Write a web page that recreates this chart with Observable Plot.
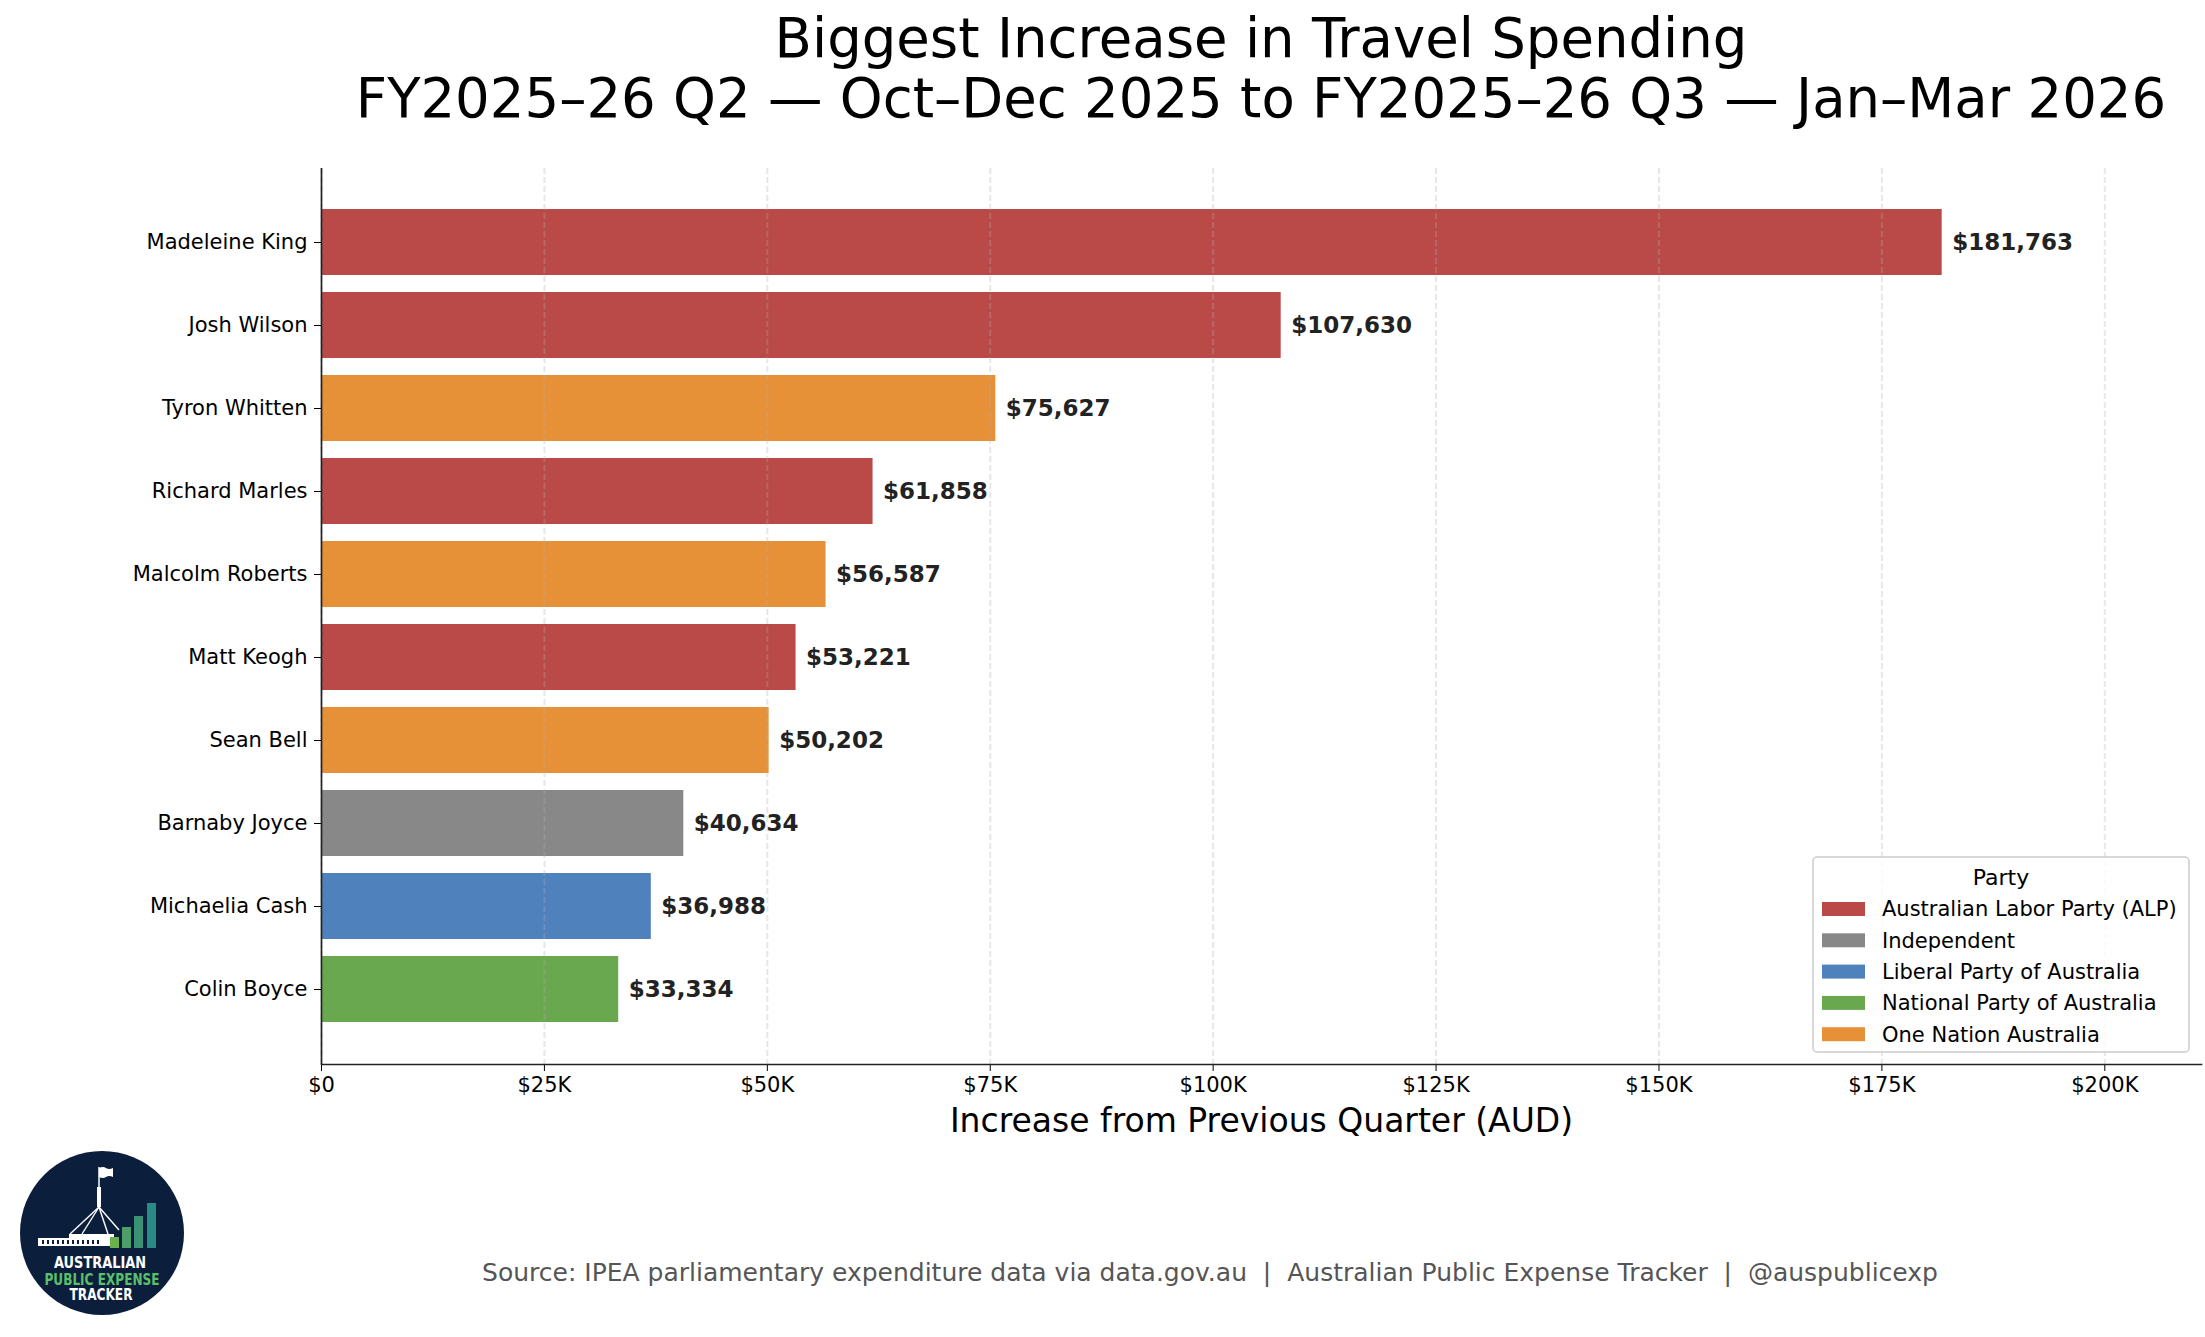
<!DOCTYPE html>
<html>
<head>
<meta charset="utf-8">
<script src="https://cdn.jsdelivr.net/npm/d3@7"></script>
<script src="https://cdn.jsdelivr.net/npm/@observablehq/plot@0.6"></script>
<style>
html, body { margin: 0; padding: 0; background: #fff; }
#page { position: relative; width: 2205px; height: 1337px; overflow: hidden; font-family: "DejaVu Sans", sans-serif; background: #fff; }
#title, #footer { display: block; }
#chart svg { display: block; }
#legend { position: absolute; left: 1812px; top: 856px; }
</style>
</head>
<body>
<div id="page">
  <svg id="title" width="2205" height="140"></svg>
  <div id="chart"></div>
  <svg id="footer" width="2205" height="187"></svg>
  <svg id="legend" width="380" height="200"></svg>
</div>
<script>
// ---------- data ----------
const titleLines = ["Biggest Increase in Travel Spending", "FY2025–26 Q2 — Oct–Dec 2025 to FY2025–26 Q3 — Jan–Mar 2026"];
const names = ["Madeleine King", "Josh Wilson", "Tyron Whitten", "Richard Marles", "Malcolm Roberts", "Matt Keogh", "Sean Bell", "Barnaby Joyce", "Michaelia Cash", "Colin Boyce"];
const values = [181763, 107630, 75627, 61858, 56587, 53221, 50202, 40634, 36988, 33334];
const parties = ["Australian Labor Party (ALP)", "Australian Labor Party (ALP)", "One Nation Australia", "Australian Labor Party (ALP)", "One Nation Australia", "Australian Labor Party (ALP)", "One Nation Australia", "Independent", "Liberal Party of Australia", "National Party of Australia"];
const partyOrder = ["Australian Labor Party (ALP)", "Independent", "Liberal Party of Australia", "National Party of Australia", "One Nation Australia"];
const partyColors = ["#b94a48", "#888888", "#4f81bd", "#6aa84f", "#e69138"];
const xTicks = [0, 25000, 50000, 75000, 100000, 125000, 150000, 175000, 200000];
const xTickLabels = ["$0", "$25K", "$50K", "$75K", "$100K", "$125K", "$150K", "$175K", "$200K"];
const xMax = 210845;
const xLabel = "Increase from Previous Quarter (AUD)";
const legendTitle = "Party";
const sourceText = "Source: IPEA parliamentary expenditure data via data.gov.au  |  Australian Public Expense Tracker  |  @auspublicexp";

const data = names.map((name, i) => ({name, value: values[i], party: parties[i]}));
const fmt = d3.format(",");

// ---------- title ----------
const titleSvg = d3.select("#title");
titleSvg.selectAll("text").data(titleLines).join("text")
  .attr("x", 1261).attr("y", (d, i) => 57 + i * 60)
  .attr("text-anchor", "middle")
  .attr("font-family", "DejaVu Sans").attr("font-size", 54.5).attr("fill", "#000")
  .text(d => d);

// ---------- chart ----------
const chart = Plot.plot({
  width: 2205,
  height: 1010,
  marginTop: 28,
  marginBottom: 86,
  marginLeft: 321,
  marginRight: 4,
  style: {fontFamily: "DejaVu Sans", fontSize: "21px", color: "#000", background: "#fff", overflow: "visible"},
  x: {domain: [0, xMax], axis: null},
  y: {domain: names, paddingInner: 0.2, paddingOuter: 0.49, axis: null},
  color: {domain: partyOrder, range: partyColors},
  marks: [
    Plot.barX(data, {x: "value", y: "name", fill: "party"}),
    Plot.ruleX(xTicks, {stroke: "#b0b0b0", strokeOpacity: 0.3, strokeWidth: 2, strokeDasharray: "6,3"}),
    Plot.text(data, {x: "value", y: "name", text: d => "$" + fmt(d.value), dx: 10, textAnchor: "start", fontWeight: "bold", fontSize: 23, fill: "#222"}),
    Plot.axisY({tickSize: 7, tickPadding: 7, fontSize: 21, color: "#000", label: null}),
    Plot.axisX({ticks: xTicks, tickFormat: d => xTickLabels[xTicks.indexOf(d)], tickSize: 7, tickPadding: 6, fontSize: 21, color: "#000", label: null}),
    Plot.ruleX([0], {stroke: "#222", strokeWidth: 1.7}),
    Plot.frame({anchor: "bottom", stroke: "#222", strokeWidth: 1.7}),
    Plot.text([xLabel], {frameAnchor: "bottom", dy: 57, fontSize: 33, lineAnchor: "middle", fill: "#000"})
  ]
});
document.getElementById("chart").appendChild(chart);

// ---------- legend ----------
const lg = d3.select("#legend");
lg.append("rect").attr("x", 1).attr("y", 1).attr("width", 376).attr("height", 195).attr("rx", 4)
  .attr("fill", "#fff").attr("fill-opacity", 0.8).attr("stroke", "#cccccc").attr("stroke-width", 1.5);
lg.append("text").attr("x", 189).attr("y", 29).attr("text-anchor", "middle")
  .attr("font-family", "DejaVu Sans").attr("font-size", 22).attr("fill", "#000").text(legendTitle);
const rows = lg.selectAll("g.row").data(partyOrder).join("g").attr("class", "row")
  .attr("transform", (d, i) => `translate(0,${53 + i * 31.3})`);
rows.append("rect").attr("x", 10).attr("y", -7).attr("width", 43).attr("height", 14)
  .attr("fill", (d, i) => partyColors[i]);
rows.append("text").attr("x", 70).attr("y", 0).attr("dy", "0.35em")
  .attr("font-family", "DejaVu Sans").attr("font-size", 21).attr("fill", "#000").text(d => d);

// ---------- footer: logo + source ----------
const ft = d3.select("#footer");
const cx = 102, cy = 83;
const logo = ft.append("g");
logo.append("circle").attr("cx", cx).attr("cy", cy).attr("r", 82).attr("fill", "#0b1f3d");
logo.append("path").attr("d", `M${cx-3},${cy-65} q4,-2 7,0 t7,0 l0,9 q-4,-2 -7,0 t-7,0 z`).attr("fill", "#fff");
logo.append("line").attr("x1", cx-3).attr("y1", cy-66).attr("x2", cx-3).attr("y2", cy-44).attr("stroke", "#fff").attr("stroke-width", 1.5);
logo.append("rect").attr("x", cx-5).attr("y", cy-46).attr("width", 4).attr("height", 20).attr("fill", "#fff");
[[-32, 1], [-20, 1], [6, 1], [17, -3]].forEach(([dx, dy]) => {
  logo.append("line").attr("x1", cx-3).attr("y1", cy-26).attr("x2", cx+dx).attr("y2", cy+dy)
    .attr("stroke", "#fff").attr("stroke-width", 1.4);
});
logo.append("rect").attr("x", cx-64).attr("y", cy+5).attr("width", 76).attr("height", 8).attr("fill", "#fff");
logo.append("rect").attr("x", cx-33).attr("y", cy+1).attr("width", 45).attr("height", 5).attr("fill", "#fff");
for (let k = 0; k < 12; k++) {
  logo.append("rect").attr("x", cx-60 + k * 5).attr("y", cy+7).attr("width", 2).attr("height", 4).attr("fill", "#0b1f3d");
}
[[8, 4, "#6ab04c"], [20, -6, "#4e9e68"], [32, -17, "#3a9176"], [45, -30, "#2a8a86"]].forEach(([dx, top, c]) => {
  logo.append("rect").attr("x", cx+dx).attr("y", cy+top).attr("width", 9).attr("height", 15 - top).attr("fill", c);
});
logo.append("text").attr("x", cx-2).attr("y", cy+35).attr("text-anchor", "middle")
  .attr("font-family", "DejaVu Sans").attr("font-weight", "bold").attr("font-size", 15)
  .attr("textLength", 92).attr("lengthAdjust", "spacingAndGlyphs").attr("fill", "#fff").text("AUSTRALIAN");
logo.append("text").attr("x", cx).attr("y", cy+52).attr("text-anchor", "middle")
  .attr("font-family", "DejaVu Sans").attr("font-weight", "bold").attr("font-size", 15)
  .attr("textLength", 115).attr("lengthAdjust", "spacingAndGlyphs").attr("fill", "#5cbf6a").text("PUBLIC EXPENSE");
logo.append("text").attr("x", cx-1).attr("y", cy+67).attr("text-anchor", "middle")
  .attr("font-family", "DejaVu Sans").attr("font-weight", "bold").attr("font-size", 15)
  .attr("textLength", 63).attr("lengthAdjust", "spacingAndGlyphs").attr("fill", "#fff").text("TRACKER");

ft.append("text").attr("x", 1210).attr("y", 122).attr("dy", "0.35em").attr("text-anchor", "middle")
  .attr("font-family", "DejaVu Sans").attr("font-size", 25).attr("fill", "#555555")
  .attr("xml:space", "preserve").style("white-space", "pre").text(sourceText);
</script>
</body>
</html>
